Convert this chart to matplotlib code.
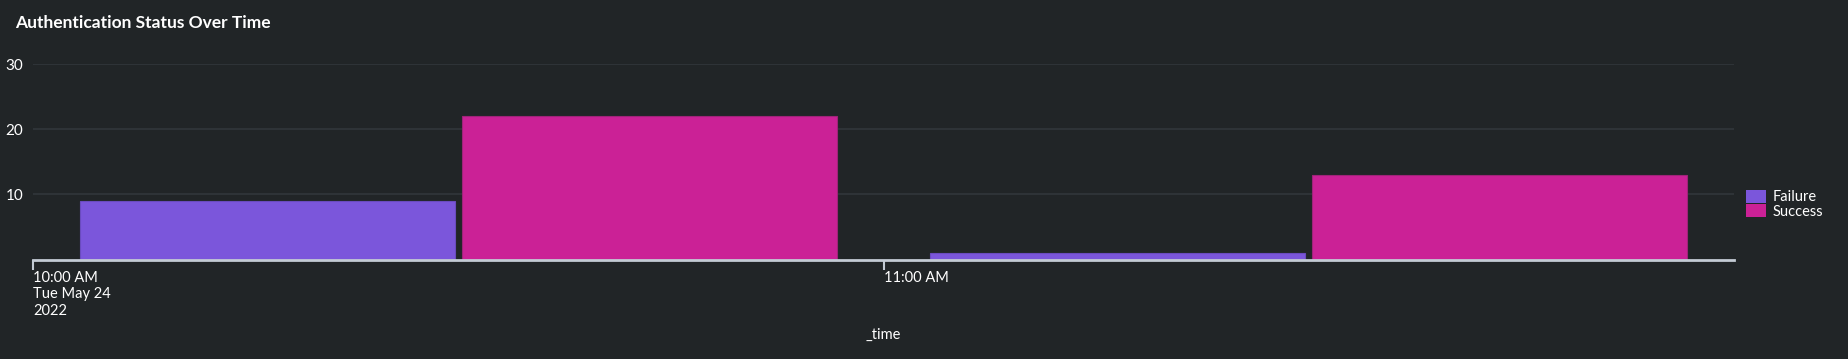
import matplotlib
matplotlib.use('Agg')
import matplotlib.pyplot as plt
from matplotlib.patches import Patch
import numpy as np

# data
time_labels = ['10:00 AM\nTue May 24\n2022', '11:00 AM']
failure = [9, 1]
success = [22, 13]
series_names = ['Failure', 'Success']

BG = '#212527'
FAIL_C = '#7b56db'
SUCC_C = '#cb2196'
TEXT_C = '#ffffff'
GRID_C = '#31373b'
AXIS_C = '#c3cbd4'

plt.rcParams['font.family'] = ['Lato', 'DejaVu Sans']

W, H = 1849, 359
fig = plt.figure(figsize=(W / 100, H / 100), dpi=100, facecolor=BG)

# axes box in pixels (from the reference)
x0, x1 = 33, 1734
y_top, y_bot = 64.3, 259.5
ax = fig.add_axes([x0 / W, 1 - y_bot / H, (x1 - x0) / W, (y_bot - y_top) / H])
ax.set_facecolor(BG)

# one hour buckets, two bars side by side in each
x = np.arange(len(time_labels))
bar_w = 0.441
gap = 0.008
start = 0.055
ax.bar(x + start, failure, width=bar_w, align='edge', color=FAIL_C,
       edgecolor='#6a4bbf', linewidth=0.8, zorder=3)
ax.bar(x + start + bar_w + gap, success, width=bar_w, align='edge', color=SUCC_C,
       edgecolor='#9e2478', linewidth=0.8, zorder=3)

ax.set_xlim(0, 2)
ax.set_ylim(0, 30)

ax.set_yticks([10, 20, 30])
ax.set_yticklabels(['10', '20', '30'])
ax.yaxis.grid(True, color=GRID_C, linewidth=1.2, zorder=0)
ax.tick_params(axis='y', length=0, pad=7, labelsize=11, labelcolor=TEXT_C)

ax.set_xticks(x)
ax.set_xticklabels(time_labels, ha='left', va='top', linespacing=1.25)
ax.tick_params(axis='x', length=7, width=1.5, color=AXIS_C, pad=1,
               labelsize=10.5, labelcolor=TEXT_C)

for side in ['top', 'right', 'left']:
    ax.spines[side].set_visible(False)
ax.spines['bottom'].set_color(AXIS_C)
ax.spines['bottom'].set_linewidth(2)
ax.spines['bottom'].set_zorder(4)

fig.text(883.5 / W, 1 - 339 / H, '_time', ha='center', va='baseline',
         color=TEXT_C, fontsize=10.5)

fig.text(15 / W, 1 - 28 / H, 'Authentication Status Over Time', ha='left',
         va='baseline', color=TEXT_C, fontsize=12.5, fontweight='bold')

handles = [Patch(facecolor=FAIL_C, edgecolor='none'),
           Patch(facecolor=SUCC_C, edgecolor='none')]
fig.legend(handles, series_names, loc='upper left',
           bbox_to_anchor=(1746 / W, 1 - 190 / H), frameon=False,
           borderpad=0, borderaxespad=0, labelspacing=0.0,
           handlelength=1.37, handleheight=0.98, handletextpad=0.45,
           fontsize=10.5, labelcolor=TEXT_C)

fig.savefig('out.png', dpi=100, facecolor=BG)
